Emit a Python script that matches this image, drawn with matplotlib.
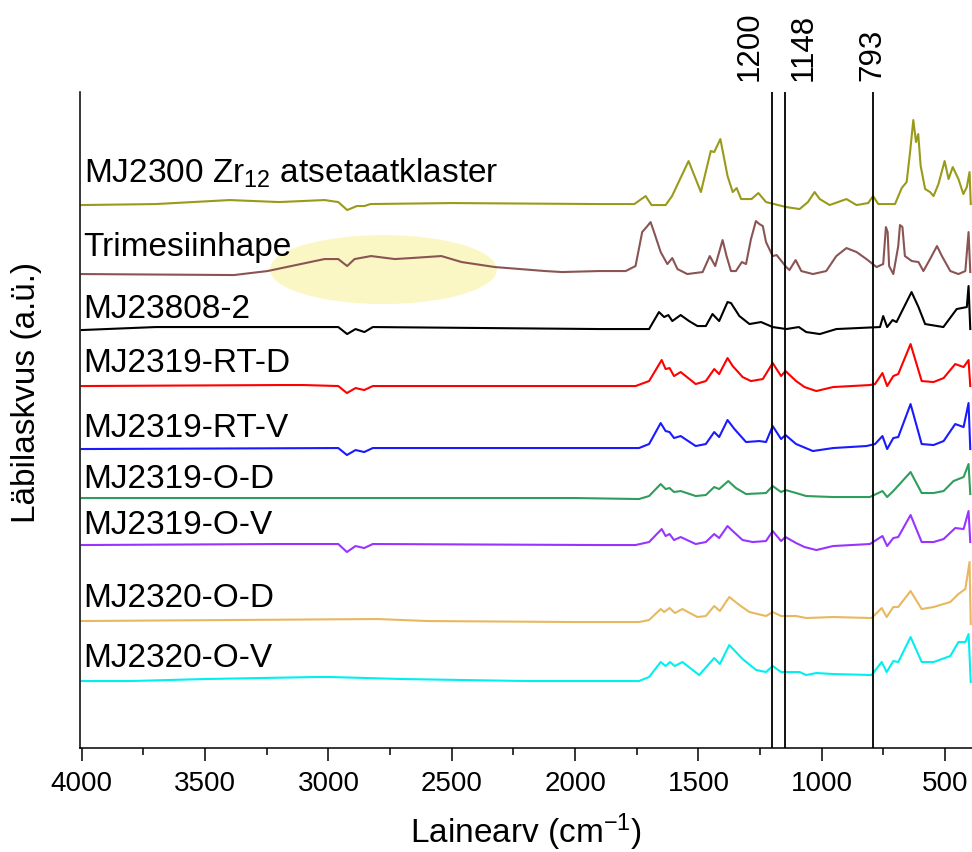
import matplotlib.pyplot as plt
from matplotlib.patches import Ellipse
from matplotlib.ticker import MultipleLocator

plt.rcParams['font.family'] = ['Liberation Sans', 'DejaVu Sans']
plt.rcParams['mathtext.default'] = 'regular'

# Spectra: wavenumber (cm-1) and stacked intensity (a.u.)
zr12_x = [4000, 3700, 3400, 3200, 3016, 2960, 2924, 2885, 2854, 2830, 2500, 1904, 1760, 1714, 1690, 1633, 1607,
          1540, 1490, 1450, 1436, 1411, 1382, 1361, 1345, 1327, 1285, 1257, 1226, 1144, 1090, 1056, 1029, 1008,
          968, 900, 859, 812, 792, 771, 703, 676, 656, 642, 629, 618, 609, 599, 581, 561, 547, 527, 502, 486,
          469, 446, 426, 412, 401, 396]
zr12_y = [539, 540, 544, 542, 544, 542, 534, 538, 538, 540, 541, 540, 540, 548, 539, 539, 548,
          583, 552, 593, 592, 605, 568, 552, 556, 545, 545, 551, 542, 537, 535, 542, 552, 545,
          539, 545, 539, 541, 548, 540, 540, 556, 562, 592, 624, 602, 610, 578, 555, 552, 548, 560, 583, 565,
          577, 565, 550, 557, 572, 540]

btc_x = [4000, 3383, 3247, 3016, 2960, 2924, 2894, 2827, 2731, 2664, 2542, 2460, 2325, 2121, 2053, 1904, 1795,
         1755, 1728, 1707, 1694, 1680, 1653, 1626, 1606, 1585, 1545, 1483, 1454, 1432, 1402, 1386, 1368, 1348,
         1324, 1307, 1287, 1267, 1253, 1239, 1226, 1199, 1183, 1144, 1131, 1106, 1083, 1036, 982, 941, 900, 859,
         819, 778, 751, 740, 733, 727, 710, 690, 683, 673, 663, 635, 608, 588, 561, 533, 513, 479, 446, 418,
         405, 398]
btc_y = [470, 469, 473, 485, 485, 478, 485, 488, 485, 486, 488, 482, 477, 473, 472, 473, 473,
         478, 512, 518, 522, 512, 492, 480, 486, 475, 470, 472, 488, 478, 504, 488, 473, 473,
         482, 480, 505, 523, 520, 518, 502, 488, 489, 477, 474, 484, 473, 470, 473, 488, 496, 492,
         485, 477, 480, 517, 512, 478, 470, 498, 519, 517, 488, 483, 482, 473, 485, 498, 488, 473, 470, 473,
         512, 472]

mj23808_x = [4000, 3700, 2960, 2924, 2890, 2854, 2820, 1904, 1700, 1660, 1639, 1622, 1606, 1572, 1538, 1504,
             1470, 1443, 1416, 1382, 1368, 1334, 1293, 1246, 1199, 1144, 1093, 1063, 1008, 941, 764, 751, 735,
             713, 697, 636, 608, 581, 507, 453, 412, 405, 398]
mj23808_y = [414, 417, 417, 410, 415, 412, 417, 415, 415, 432, 427, 429, 423, 429, 423, 418,
             418, 430, 423, 442, 441, 428, 420, 422, 417, 415, 417, 412, 410, 415, 417, 428, 417,
             424, 422, 452, 437, 420, 417, 435, 437, 458, 415]

rt_d_x = [4000, 3200, 3100, 2960, 2925, 2890, 2855, 2820, 1904, 1755, 1700, 1649, 1633, 1617, 1599, 1572, 1511,
          1470, 1436, 1416, 1382, 1361, 1321, 1287, 1239, 1199, 1165, 1147, 1104, 1070, 1022, 954, 805, 784,
          754, 735, 710, 690, 640, 595, 547, 506, 459, 425, 405, 398]
rt_d_y = [358, 359, 359, 358, 351, 356, 354, 358, 358, 358, 363, 384, 375, 376, 368, 372, 360,
          363, 375, 370, 386, 378, 367, 363, 365, 381, 368, 373, 363, 357, 353, 357, 359, 360,
          371, 358, 368, 370, 400, 363, 362, 366, 380, 377, 384, 358]

rt_v_x = [4000, 2960, 2925, 2890, 2855, 2820, 1904, 1741, 1700, 1653, 1633, 1617, 1599, 1572, 1511, 1470, 1436,
          1416, 1382, 1354, 1307, 1253, 1226, 1199, 1165, 1147, 1104, 1036, 954, 819, 784, 754, 735, 710, 690,
          640, 595, 547, 506, 459, 425, 405, 398]
rt_v_y = [295, 296, 289, 294, 292, 296, 296, 296, 300, 321, 313, 312, 306, 308, 298, 300, 312,
          307, 324, 315, 302, 303, 302, 318, 305, 309, 300, 293, 296, 298, 300, 308, 295, 306, 307,
          340, 300, 299, 303, 320, 317, 341, 295]

o_d_x = [4000, 2000, 1741, 1700, 1653, 1633, 1617, 1599, 1572, 1511, 1470, 1436, 1416, 1379, 1348, 1307, 1226,
         1199, 1165, 1147, 1104, 1063, 954, 805, 754, 735, 710, 640, 595, 547, 506, 466, 425, 405, 398]
o_d_y = [246, 246, 245, 248, 260, 255, 256, 252, 253, 248, 249, 257, 255, 263, 256, 250, 251,
         258, 252, 254, 251, 248, 247, 247, 253, 247, 253, 272, 251, 251, 253, 263, 267, 280, 250]

o_v_x = [4000, 3200, 2960, 2925, 2890, 2855, 2820, 1904, 1755, 1700, 1649, 1633, 1617, 1599, 1572, 1511, 1470,
         1436, 1416, 1382, 1361, 1321, 1280, 1226, 1199, 1165, 1147, 1104, 1070, 1022, 954, 805, 754, 735, 710,
         690, 640, 595, 547, 506, 459, 425, 405, 398]
o_v_y = [199, 200, 200, 192, 198, 196, 200, 199, 199, 202, 215, 208, 210, 204, 207, 200, 202,
         210, 206, 218, 213, 204, 202, 203, 213, 203, 207, 201, 197, 194, 198, 200, 208, 198, 206,
         207, 229, 202, 202, 205, 216, 215, 233, 202]

mj2320_d_x = [4000, 3400, 2800, 2600, 2000, 1741, 1700, 1653, 1639, 1617, 1595, 1565, 1504, 1470, 1436, 1413,
              1375, 1334, 1293, 1226, 1199, 1165, 1104, 1063, 954, 798, 757, 737, 710, 690, 640, 595, 547, 479,
              446, 418, 401, 396]
mj2320_d_y = [123, 124, 125, 123, 122, 122, 124, 135, 132, 136, 131, 135, 127, 128, 138, 133,
              147, 139, 132, 128, 132, 128, 128, 126, 127, 126, 136, 127, 137, 137, 153, 135, 137, 142,
              150, 155, 182, 120]

mj2320_v_x = [4000, 3800, 3500, 3050, 2990, 2700, 2200, 1741, 1700, 1653, 1633, 1615, 1596, 1565, 1497, 1436,
              1413, 1375, 1321, 1266, 1226, 1199, 1165, 1090, 1063, 1022, 954, 798, 757, 737, 710, 690, 640, 595,
              547, 479, 446, 418, 405, 396]
mj2320_v_y = [63, 63, 65, 67, 67, 65, 63, 63, 67, 82, 78, 82, 78, 82, 69, 86,
              80, 99, 85, 74, 72, 78, 72, 72, 69, 71, 70, 69, 82, 72, 83, 82, 107, 82,
              82, 88, 102, 102, 110, 62]

labels = ['MJ2300 Zr$_{12}$ atsetaatklaster', 'Trimesiinhape', 'MJ23808-2', 'MJ2319-RT-D', 'MJ2319-RT-V',
          'MJ2319-O-D', 'MJ2319-O-V', 'MJ2320-O-D', 'MJ2320-O-V']
label_y = [562, 489, 427, 373, 308, 257, 211, 138, 78]
marked_peaks = [1200, 1148, 793]

series = [(zr12_x, zr12_y, '#9a9a1a'), (btc_x, btc_y, '#8b5454'), (mj23808_x, mj23808_y, 'black'),
          (rt_d_x, rt_d_y, '#ff0000'), (rt_v_x, rt_v_y, '#1a1aff'), (o_d_x, o_d_y, '#2f9e5c'),
          (o_v_x, o_v_y, '#9933ff'), (mj2320_d_x, mj2320_d_y, '#e8b860'), (mj2320_v_x, mj2320_v_y, '#00f0f0')]

fig = plt.figure(figsize=(9.72, 8.53), dpi=100)
ax = fig.add_axes([0.0823, 0.1219, 0.9177, 0.769])

# highlight of the broad O-H band of the acid
ax.add_patch(Ellipse((2777, 474.5), 920, 69, facecolor='#fbf7c4', edgecolor='none', zorder=0))

for (x, y, c), name, ly in zip(series, labels, label_y):
    ax.plot(x, y, color=c, lw=1.5, zorder=2)
    ax.text(3992, ly, name, fontsize=24, ha='left', va='baseline')

for peak, tx in zip(marked_peaks, [1291, 1075, 793]):
    ax.axvline(peak, color='black', lw=1.3, zorder=3)
    ax.text(tx, 664, str(peak), rotation=90, fontsize=22.5, ha='center', va='bottom', clip_on=False)

ax.set_xlim(4007, 391)
ax.set_ylim(-4, 652)
ax.set_yticks([])
ax.xaxis.set_major_locator(MultipleLocator(500))
ax.xaxis.set_minor_locator(MultipleLocator(250))
ax.tick_params(axis='x', which='major', direction='out', length=9, width=1.1, pad=7, labelsize=20)
ax.tick_params(axis='x', which='minor', direction='out', length=5, width=1.1)
ax.spines['right'].set_visible(False)
ax.spines['top'].set_visible(False)
ax.spines['left'].set_linewidth(1.1)
ax.spines['bottom'].set_linewidth(1.1)

ax.set_xlabel('Lainearv (cm$^{-1}$)', fontsize=24, labelpad=10)
ax.set_ylabel('Läbilaskvus (a.ü.)', fontsize=24)
ax.yaxis.set_label_coords(-0.043, 0.543)

plt.savefig('out.png', dpi=100)
